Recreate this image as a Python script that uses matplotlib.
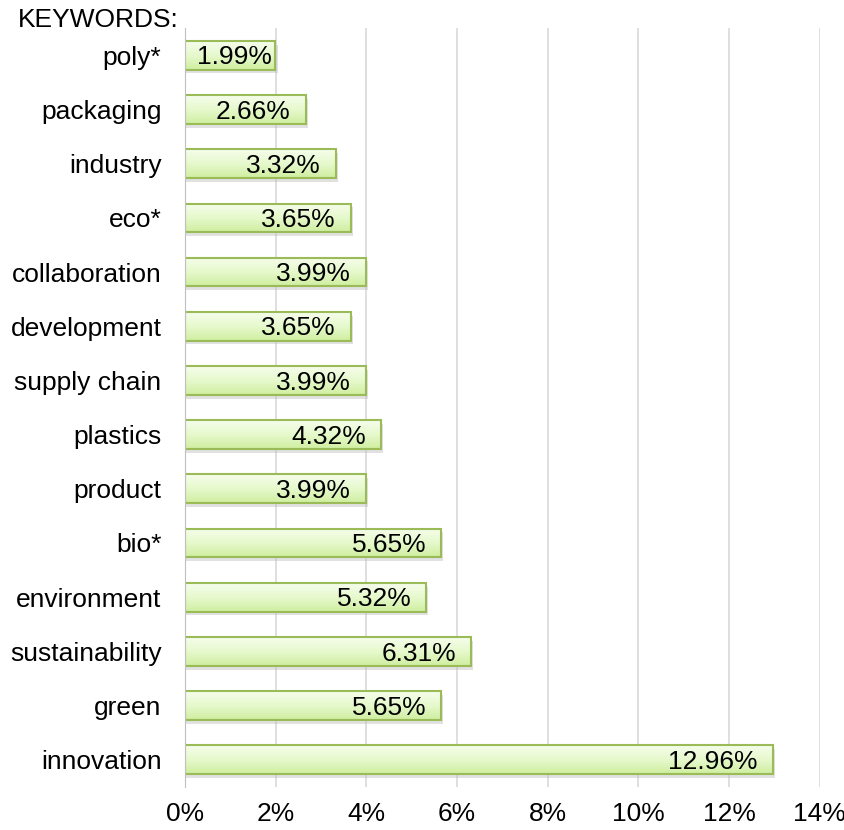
import numpy as np
import matplotlib.pyplot as plt
from matplotlib.colors import LinearSegmentedColormap

plt.rcParams['font.family'] = ['Liberation Sans', 'DejaVu Sans']

keywords = ['poly*', 'packaging', 'industry', 'eco*', 'collaboration', 'development',
            'supply chain', 'plastics', 'product', 'bio*', 'environment',
            'sustainability', 'green', 'innovation']
shares = [1.99, 2.66, 3.32, 3.65, 3.99, 3.65, 3.99, 4.32, 3.99, 5.65, 5.32, 6.31, 5.65, 12.96]
xticks = [0, 2, 4, 6, 8, 10, 12, 14]

fig = plt.figure(figsize=(8.45, 8.3), dpi=100)
ax = fig.add_axes([0.219, 0.052, 0.751, 0.914])

ypos = np.arange(len(keywords))
h = 0.53
grad = LinearSegmentedColormap.from_list('g', ['#f6fdec', '#e6f9cc', '#cfeea0'])
g = np.linspace(0, 1, 50).reshape(-1, 1)

for y, v in zip(ypos, shares):
    # shadow, right and below the bar
    ax.barh(y + 0.07, v + 0.05, height=h, color='#bdbdbd', alpha=0.45,
            linewidth=0, zorder=2)
    b = ax.barh(y, v, height=h, color='none', edgecolor='#9bbb59', linewidth=1.5, zorder=4)
    im = ax.imshow(g, cmap=grad, aspect='auto', extent=[0, v, y + h / 2, y - h / 2],
                   zorder=3, interpolation='bilinear')
    im.set_clip_path(b.patches[0])
    # label sits inside the end of the bar, tighter if the bar is short
    pad = min(0.33, max(0.07, v - 1.93))
    ax.text(v - pad, y + 0.04, f'{v:.2f}%', ha='right', va='center', fontsize=19,
            color='black', zorder=5)

ax.set_xlim(0, 14)
ax.set_ylim(len(keywords) - 0.5, -0.5)
ax.set_yticks(ypos)
ax.set_yticklabels(keywords, fontsize=19)
ax.set_xticks(xticks)
ax.set_xticklabels([f'{t}%' for t in xticks], fontsize=19)
ax.tick_params(length=0)
ax.tick_params(axis='y', pad=17)
ax.tick_params(axis='x', pad=11)
ax.grid(axis='x', color='#d9d9d9', linewidth=1.2, zorder=0)
ax.set_axisbelow(True)
for s in ['top', 'right', 'bottom']:
    ax.spines[s].set_visible(False)
ax.spines['left'].set_color('#bfbfbf')
ax.spines['left'].set_zorder(6)

fig.text(0.021, 0.962, 'KEYWORDS:', fontsize=19, ha='left', va='bottom')

fig.savefig('out.png', dpi=100)
